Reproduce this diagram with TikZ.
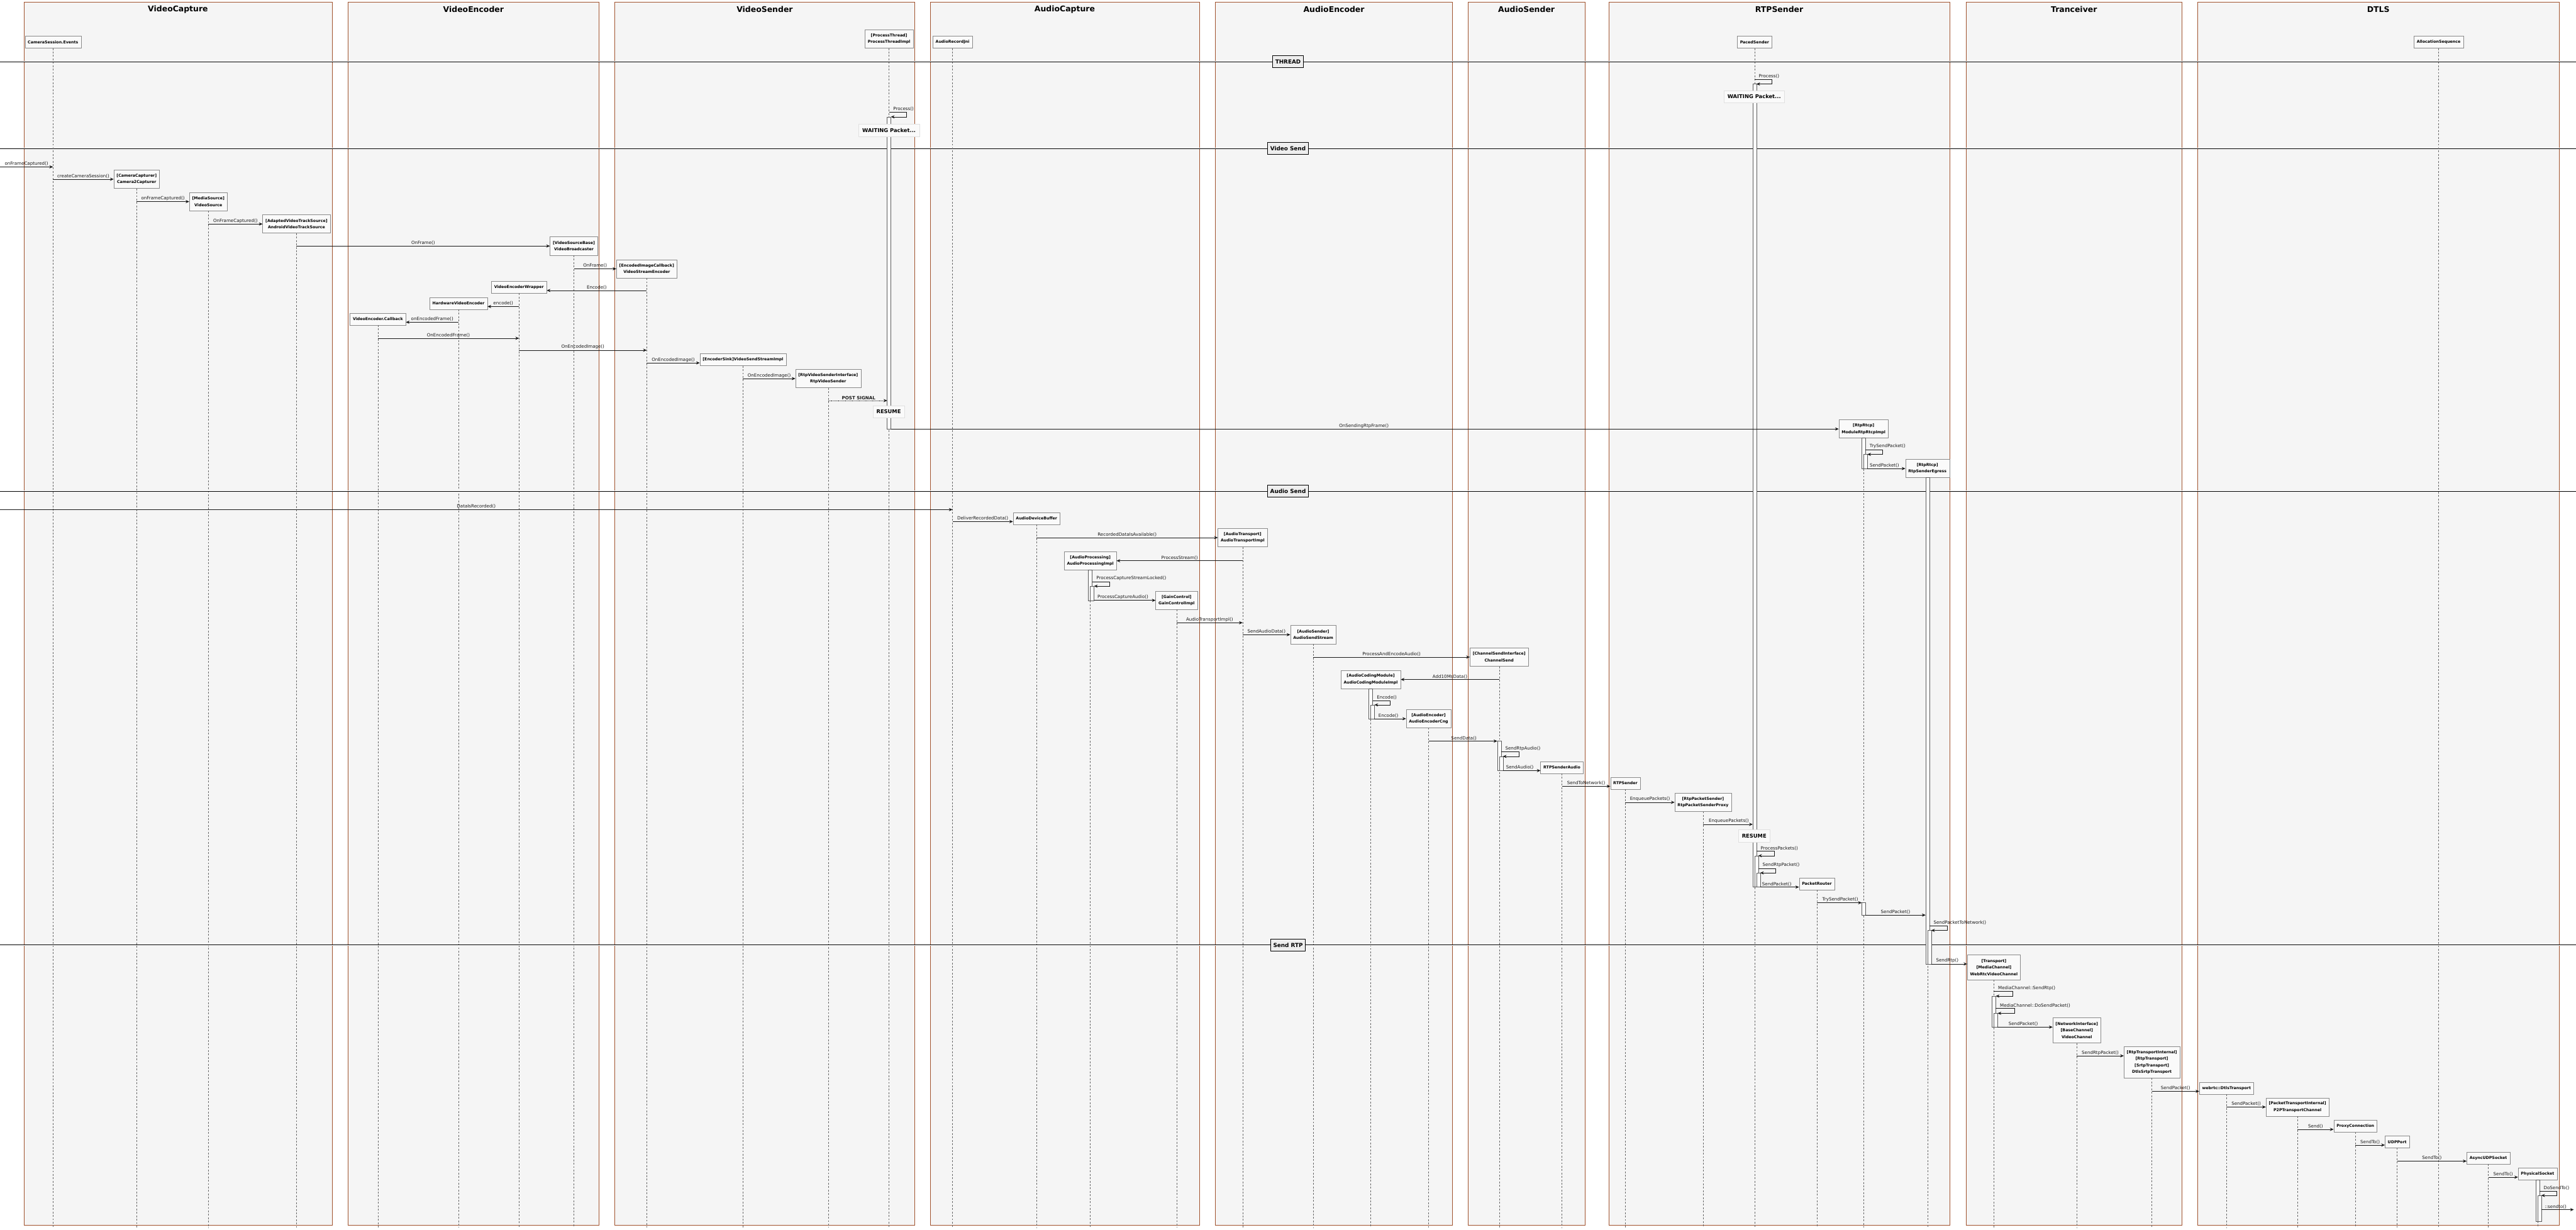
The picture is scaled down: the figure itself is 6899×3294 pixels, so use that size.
\documentclass[tikz,border=0pt]{standalone}
\usepackage{fontspec}
\setmainfont{DejaVu Sans}
\usetikzlibrary{arrows.meta, positioning, calc}

\definecolor{groupfill}{HTML}{F5F5F5}
\definecolor{groupline}{HTML}{A0522D}
\definecolor{partfill}{HTML}{FAFAFA}
\definecolor{partline}{HTML}{8A8A8A}
\definecolor{sepfill}{HTML}{EEEEEE}
\definecolor{msgline}{HTML}{181818}

\newcommand{\lblfont}{\fontsize{8.5}{10}\selectfont}
\newcommand{\partfont}{\fontsize{7.5}{12.6}\selectfont\bfseries}
\newcommand{\titlefont}{\fontsize{14.9}{18}\selectfont\bfseries}
\newcommand{\notefont}{\fontsize{10}{12}\selectfont\bfseries}
\newcommand{\sepfont}{\fontsize{10.6}{12}\selectfont\bfseries}

\begin{document}
\begin{tikzpicture}[
  x=0.25mm, y=-0.25mm,
  group/.style={draw=groupline, line width=0.45pt, fill=groupfill},
  grouptop/.style={draw=groupline, line width=1.2pt},
  grouptitle/.style={font=\titlefont, inner sep=0pt},
  part/.style={draw=partline, fill=partfill, line width=0.5pt, font=\partfont,
               align=center, inner xsep=1.9mm, inner ysep=0.5pt,
               minimum height=8mm, anchor=north},
  part2/.style={part, minimum height=12.25mm},
  part3/.style={part, minimum height=16.75mm},
  part4/.style={part, minimum height=21mm},
  life/.style={draw=black!60, line width=0.45pt, dash pattern=on 3.5pt off 3pt},
  actbar/.style={draw=black!65, fill=white, line width=0.45pt},
  msg/.style={draw=msgline, line width=0.7pt,
              -{Stealth[length=7pt, width=6pt, inset=2.5pt]}},
  sig/.style={msg, dash pattern=on 1pt off 1.2pt},
  lbl/.style={font=\lblfont, above, inner sep=1.5pt, text=msgline},
  selflbl/.style={font=\lblfont, anchor=south west, inner sep=1.5pt,
                  xshift=2.2mm, text=msgline},
  sepline/.style={draw=black, line width=0.7pt, double=white, double distance=0.45mm},
  sepbox/.style={draw=black, line width=1pt, fill=sepfill, font=\sepfont,
                 inner xsep=1.75mm, minimum height=8mm},
  note/.style={draw=black!12, fill=white!98!black, font=\notefont,
               inner xsep=2.4mm, minimum height=8.25mm}
]
\useasboundingbox (0,0) rectangle (6899,3294);

% Groups
\foreach \gl/\gr/\gname in {64/889/VideoCapture, 932/1604/VideoEncoder,
    1646/2450/VideoSender, 2491/3212/AudioCapture, 3255/3890/AudioEncoder,
    3932/4244/AudioSender, 4308/5222/RTPSender, 5265/5844/Tranceiver,
    5886/6853/DTLS}{
  \draw[group] (\gl,6) rectangle (\gr,3282);
  \draw[grouptop] (\gl,6) -- (\gr,6);
  \node[grouptitle] (t\gname) at ({(\gl+\gr)/2},25) {\gname};
}

% Participants at the top
\node[part, anchor=south] (cse) at (142,129) {CameraSession.Events};
\node[part2, anchor=south] (ptr) at (2381,129) {[ProcessThread]\\ProcessThreadImpl};
\node[part, anchor=south] (arj) at (2551,129) {AudioRecordJni};
\node[part, anchor=south] (pcs) at (4699,129) {PacedSender};
\node[part, anchor=south] (als) at (6531,129) {AllocationSequence};

% Participants created by a message
\node[part2] (ccap) at (366,455) {[CameraCapturer]\\Camera2Capturer};
\node[part2] (vsrc) at (558,515) {[MediaSource]\\VideoSource};
\node[part2] (avts) at (794,575) {[AdaptedVideoTrackSource]\\AndroidVideoTrackSource};
\node[part2] (vbc) at (1537,634) {[VideoSourceBase]\\VideoBroadcaster};
\node[part2] (vse) at (1732,695) {[EncodedImageCallback]\\VideoStreamEncoder};
\node[part] (vew) at (1390,753) {VideoEncoderWrapper};
\node[part] (hve) at (1228,796) {HardwareVideoEncoder};
\node[part] (vecb) at (1012,838) {VideoEncoder.Callback};
\node[part] (vss) at (1990,947) {[EncoderSink]VideoSendStreamImpl};
\node[part2] (rvs) at (2218,989) {[RtpVideoSenderInterface]\\RtpVideoSender};
\node[part2] (rrm) at (4991,1124) {[RtpRtcp]\\ModuleRtpRtcpImpl};
\node[part2] (rse) at (5162,1230) {[RtpRtcp]\\RtpSenderEgress};
\node[part] (adb) at (2776,1372) {AudioDeviceBuffer};
\node[part2] (ati) at (3328,1415) {[AudioTransport]\\AudioTransportImpl};
\node[part2] (api) at (2920,1477) {[AudioProcessing]\\AudioProcessingImpl};
\node[part2] (gci) at (3151,1583) {[GainControl]\\GainControlImpl};
\node[part2] (ass) at (3517,1675) {[AudioSender]\\AudioSendStream};
\node[part2] (chs) at (4015,1735) {[ChannelSendInterface]\\ChannelSend};
\node[part2] (acm) at (3671,1795) {[AudioCodingModule]\\AudioCodingModuleImpl};
\node[part2] (aec) at (3826,1900) {[AudioEncoder]\\AudioEncoderCng};
\node[part] (rsa) at (4183,2039) {RTPSenderAudio};
\node[part] (rsd) at (4353,2081) {RTPSender};
\node[part2] (rps) at (4561,2124) {[RtpPacketSender]\\RtpPacketSenderProxy};
\node[part] (prt) at (4866,2351) {PacketRouter};
\node[part3] (wvc) at (5340,2557) {[Transport]\\{}[MediaChannel]\\WebRtcVideoChannel};
\node[part3] (vch) at (5562,2726) {[NetworkInterface]\\{}[BaseChannel]\\VideoChannel};
\node[part4] (dst) at (5763,2803) {[RtpTransportInternal]\\{}[RtpTransport]\\{}[SrtpTransport]\\DtlsSrtpTransport};
\node[part] (dtl) at (5963,2898) {webrtc::DtlsTransport};
\node[part2] (p2p) at (6153,2940) {[PacketTransportInternal]\\P2PTransportChannel};
\node[part] (pxc) at (6308,3000) {ProxyConnection};
\node[part] (udp) at (6420,3042) {UDPPort};
\node[part] (aus) at (6664,3085) {AsyncUDPSocket};
\node[part] (phs) at (6796,3128) {PhysicalSocket};

% Lifelines
\foreach \p in {cse,ptr,arj,pcs,als,ccap,vsrc,avts,vbc,vse,vew,hve,vecb,vss,rvs,
    rrm,rse,adb,ati,api,gci,ass,chs,acm,aec,rsa,rsd,rps,prt,wvc,vch,dst,dtl,p2p,
    pxc,udp,aus,phs}{
  \draw[life] (\p.south) -- (\p.south |- 0,3288);
}

% Dividers
\foreach \sy/\sname [count=\i] in {165/THREAD, 397/Video Send, 1315/Audio Send,
    2532/Send RTP}{
  \draw[sepline] (0,\sy) -- (6899,\sy);
  \node[sepbox] (sep\i) at (3449.5,\sy) {\sname};
}

% Activation bars
\draw[actbar] (2376,313) rectangle (2386,1149);
\draw[actbar] (4694,225) rectangle (4704,2376);
\draw[actbar] (4699,2292) rectangle (4709,2376);
\draw[actbar] (4704,2338) rectangle (4714,2376);
\draw[actbar] (4986,1173) rectangle (4996,1255);
\draw[actbar] (4991,1217) rectangle (5001,1255);
\draw[actbar] (4986,2418) rectangle (4996,2451);
\draw[actbar] (5157,1279) rectangle (5167,2582);
\draw[actbar] (5162,2492) rectangle (5172,2582);
\draw[actbar] (2915,1526) rectangle (2925,1608);
\draw[actbar] (2920,1570) rectangle (2930,1608);
\draw[actbar] (3666,1844) rectangle (3676,1925);
\draw[actbar] (3671,1888) rectangle (3681,1925);
\draw[actbar] (4010,1985) rectangle (4020,2064);
\draw[actbar] (4015,2026) rectangle (4025,2064);
\draw[actbar] (5335,2668) rectangle (5345,2751);
\draw[actbar] (5340,2714) rectangle (5350,2751);
\draw[actbar] (6791,3160) rectangle (6801,3271);
\draw[actbar] (6796,3202) rectangle (6806,3271);

% Thread loops
\draw[msg] (ptr |- 0,300) node[selflbl]{Process()} -- ++(47,0) -- ++(0,13) -- ++(-42,0);
\draw[msg] (pcs |- 0,212) node[selflbl]{Process()} -- ++(47,0) -- ++(0,13) -- ++(-42,0);

% Video Send
\coordinate (vidin) at (0,447);
\draw[msg] (vidin) -- (cse |- vidin) node[lbl,midway]{onFrameCaptured()};
\draw[msg] (cse |- 0,480) -- (ccap.west |- 0,480) node[lbl,midway]{createCameraSession()};
\draw[msg] (ccap |- 0,540) -- (vsrc.west |- 0,540) node[lbl,midway]{onFrameCaptured()};
\draw[msg] (vsrc |- 0,600) -- (avts.west |- 0,600) node[lbl,midway]{OnFrameCaptured()};
\draw[msg] (avts |- 0,659) -- (vbc.west |- 0,659) node[lbl,midway]{OnFrame()};
\draw[msg] (vbc |- 0,720) -- (vse.west |- 0,720) node[lbl,midway]{OnFrame()};
\draw[msg] (vse |- 0,778) -- (vew.east |- 0,778) node[lbl,midway]{Encode()};
\draw[msg] (vew |- 0,821) -- (hve.east |- 0,821) node[lbl,midway]{encode()};
\draw[msg] (hve |- 0,863) -- (vecb.east |- 0,863) node[lbl,midway]{onEncodedFrame()};
\draw[msg] (vecb |- 0,906) -- (vew |- 0,906) node[lbl,midway]{OnEncodedFrame()};
\draw[msg] (vew |- 0,938) -- (vse |- 0,938) node[lbl,midway]{OnEncodedImage()};
\draw[msg] (vse |- 0,972) -- (vss.west |- 0,972) node[lbl,midway]{OnEncodedImage()};
\draw[msg] (vss |- 0,1014) -- (rvs.west |- 0,1014) node[lbl,midway]{OnEncodedImage()};
\draw[sig, shorten >=1.25mm] (rvs |- 0,1073) -- (ptr |- 0,1073)
  node[lbl,midway,font=\lblfont\bfseries]{POST SIGNAL};
\draw[msg, shorten <=1.25mm] (ptr |- 0,1149) -- (rrm.west |- 0,1149)
  node[lbl,midway]{OnSendingRtpFrame()};
\draw[msg] ($(rrm |- 0,1204)+(5,0)$) node[selflbl]{TrySendPacket()}
  -- ++(46,0) -- ++(0,13) -- ++(-41,0);
\draw[msg, shorten <=2.5mm] (rrm |- 0,1255) -- (rse.west |- 0,1255)
  node[lbl,midway]{SendPacket()};

% Audio Send
\coordinate (audin) at (0,1365);
\draw[msg] (audin) -- (arj |- audin) node[lbl,midway]{DataIsRecorded()};
\draw[msg] (arj |- 0,1397) -- (adb.west |- 0,1397) node[lbl,midway]{DeliverRecordedData()};
\draw[msg] (adb |- 0,1440) -- (ati.west |- 0,1440) node[lbl,midway]{RecordedDataIsAvailable()};
\draw[msg] (ati |- 0,1502) -- (api.east |- 0,1502) node[lbl,midway]{ProcessStream()};
\draw[msg] ($(api |- 0,1558)+(5,0)$) node[selflbl]{ProcessCaptureStreamLocked()}
  -- ++(47,0) -- ++(0,12) -- ++(-42,0);
\draw[msg, shorten <=2.5mm] (api |- 0,1608) -- (gci.west |- 0,1608)
  node[lbl,midway]{ProcessCaptureAudio()};
\draw[msg] (gci |- 0,1668) -- (ati |- 0,1668) node[lbl,midway]{AudioTransportImpl()};
\draw[msg] (ati |- 0,1700) -- (ass.west |- 0,1700) node[lbl,midway]{SendAudioData()};
\draw[msg] (ass |- 0,1760) -- (chs.west |- 0,1760) node[lbl,midway]{ProcessAndEncodeAudio()};
\draw[msg] (chs |- 0,1820) -- (acm.east |- 0,1820) node[lbl,midway]{Add10MsData()};
\draw[msg] ($(acm |- 0,1876)+(5,0)$) node[selflbl]{Encode()}
  -- ++(47,0) -- ++(0,12) -- ++(-42,0);
\draw[msg, shorten <=2.5mm] (acm |- 0,1925) -- (aec.west |- 0,1925)
  node[lbl,midway]{Encode()};
\draw[msg, shorten >=1.25mm] (aec |- 0,1985) -- (chs |- 0,1985) node[lbl,midway]{SendData()};
\draw[msg] ($(chs |- 0,2013)+(5,0)$) node[selflbl]{SendRtpAudio()}
  -- ++(48,0) -- ++(0,13) -- ++(-43,0);
\draw[msg, shorten <=2.5mm] (chs |- 0,2064) -- (rsa.west |- 0,2064)
  node[lbl,midway]{SendAudio()};
\draw[msg] (rsa |- 0,2106) -- (rsd.west |- 0,2106) node[lbl,midway]{SendToNetwork()};
\draw[msg] (rsd |- 0,2149) -- (rps.west |- 0,2149) node[lbl,midway]{EnqueuePackets()};
\draw[msg, shorten >=1.25mm] (rps |- 0,2208) -- (pcs |- 0,2208)
  node[lbl,midway]{EnqueuePackets()};
\draw[msg] ($(pcs |- 0,2280)+(5,0)$) node[selflbl]{ProcessPackets()}
  -- ++(48,0) -- ++(0,12) -- ++(-43,0);
\draw[msg] ($(pcs |- 0,2326)+(10,0)$) node[selflbl]{SendRtpPacket()}
  -- ++(47,0) -- ++(0,12) -- ++(-42,0);
\draw[msg, shorten <=3.75mm] (pcs |- 0,2376) -- (prt.west |- 0,2376)
  node[lbl,midway]{SendPacket()};
\draw[msg, shorten >=1.25mm] (prt |- 0,2418) -- (rrm |- 0,2418)
  node[lbl,midway]{TrySendPacket()};
\draw[msg, shorten <=1.25mm, shorten >=1.25mm] (rrm |- 0,2451) -- (rse |- 0,2451)
  node[lbl,midway]{SendPacket()};
\draw[msg] ($(rse |- 0,2480)+(5,0)$) node[selflbl]{SendPacketToNetwork()}
  -- ++(48,0) -- ++(0,12) -- ++(-43,0);

% Send RTP
\draw[msg, shorten <=2.5mm] (rse |- 0,2582) -- (wvc.west |- 0,2582)
  node[lbl,midway]{SendRtp()};
\draw[msg] (wvc |- 0,2655) node[selflbl]{MediaChannel::SendRtp()}
  -- ++(50,0) -- ++(0,13) -- ++(-45,0);
\draw[msg] ($(wvc |- 0,2701)+(5,0)$) node[selflbl]{MediaChannel::DoSendPacket()}
  -- ++(50,0) -- ++(0,13) -- ++(-45,0);
\draw[msg, shorten <=2.5mm] (wvc |- 0,2751) -- (vch.west |- 0,2751)
  node[lbl,midway]{SendPacket()};
\draw[msg] (vch |- 0,2828) -- (dst.west |- 0,2828) node[lbl,midway]{SendRtpPacket()};
\draw[msg] (dst |- 0,2923) -- (dtl.west |- 0,2923) node[lbl,midway]{SendPacket()};
\draw[msg] (dtl |- 0,2965) -- (p2p.west |- 0,2965) node[lbl,midway]{SendPacket()};
\draw[msg] (p2p |- 0,3025) -- (pxc.west |- 0,3025) node[lbl,midway]{Send()};
\draw[msg] (pxc |- 0,3067) -- (udp.west |- 0,3067) node[lbl,midway]{SendTo()};
\draw[msg] (udp |- 0,3110) -- (aus.west |- 0,3110) node[lbl,midway]{SendTo()};
\draw[msg] (aus |- 0,3153) -- (phs.west |- 0,3153) node[lbl,midway]{SendTo()};
\draw[msg] ($(phs |- 0,3190)+(5,0)$) node[selflbl]{DoSendTo()}
  -- ++(47,0) -- ++(0,12) -- ++(-42,0);
\coordinate (netout) at (6893,3240);
\draw[msg, shorten <=2.5mm] (phs |- netout) -- (netout) node[lbl,midway]{::sendto()};

% Notes
\node[note] (wait1) at (2381,348.5) {WAITING Packet...};
\node[note] (wait2) at (4698,258.5) {WAITING Packet...};
\node[note] (resume1) at (2380,1103) {RESUME};
\node[note] (resume2) at (4698,2238.5) {RESUME};

\end{tikzpicture}
\end{document}
